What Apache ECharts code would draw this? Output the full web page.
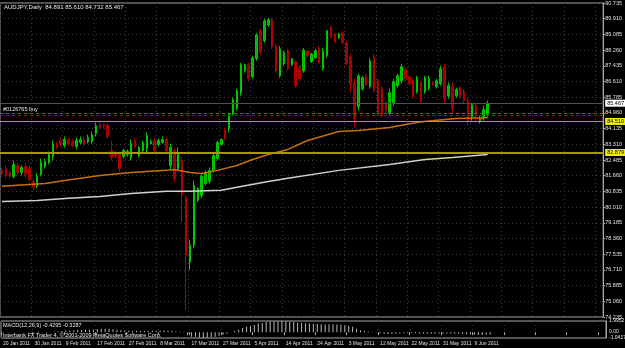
<!DOCTYPE html>
<html>
<head>
<meta charset="utf-8">
<script src="https://cdn.jsdelivr.net/npm/echarts@6/dist/echarts.min.js"></script>
<style>
html, body { margin: 0; padding: 0; background: #000; }
#chart { width: 625px; height: 348px; }
</style>
</head>
<body>
<div id="chart"></div>
<script>
// texts
var symbolTitle = 'AUDJPY,Daily  84.891 85.610 84.732 85.467';
var macdTitle = 'MACD(12,26,9) -0.4295 -0.3287';
var copyright = 'Interbank FX Trader 4, \u00a9 2001-2009 MetaQuotes Software Corp.';
var orderText = '#0126765 buy';

// one date label every 8 bars
var dateLabels = ['20 Jan 2011', '30 Jan 2011', '9 Feb 2011', '17 Feb 2011', '27 Feb 2011', '8 Mar 2011',
    '17 Mar 2011', '27 Mar 2011', '5 Apr 2011', '14 Apr 2011', '24 Apr 2011', '3 May 2011',
    '12 May 2011', '22 May 2011', '31 May 2011', '9 Jun 2011'];
var slotCount = 154;

var opens = [81.94, 82.04, 81.83, 81.62, 82.20, 81.83, 82.15, 82.04, 81.36, 81.10, 81.73,
    82.15, 82.35, 82.67, 83.35, 83.51, 83.24, 83.56, 83.45, 83.19, 83.40,
    83.56, 83.45, 83.45, 83.87, 84.34, 84.34, 84.29, 82.98, 82.83, 82.77,
    82.67, 82.77, 82.62, 83.51, 82.72, 82.98, 83.09, 83.35, 83.51, 83.30,
    83.40, 83.56, 82.20, 82.98, 82.04, 82.46, 80.52, 77.12, 78.01, 80.36,
    80.63, 81.25, 81.36, 81.94, 82.56, 83.30, 84.03, 84.13, 84.92, 85.18,
    86.02, 87.17, 87.49, 86.86, 87.80, 89.27, 88.75, 89.58, 89.85, 88.48,
    86.91, 87.54, 88.22, 87.49, 87.64, 87.33, 87.17, 88.22, 87.64, 87.85,
    88.38, 87.28, 87.96, 89.48, 89.11, 88.90, 89.16, 88.64, 87.91, 86.55,
    85.29, 86.23, 86.91, 86.34, 87.91, 86.65, 86.23, 85.50, 84.97, 85.50,
    86.39, 86.65, 87.23, 86.86, 86.65, 86.07, 86.55, 86.07, 86.23, 86.55,
    86.34, 86.49, 87.38, 85.86, 86.34, 85.86, 86.28, 86.07, 85.60, 84.76,
    85.34, 84.50, 84.71, 84.891];
var closes = [81.78, 81.67, 81.62, 82.25, 81.83, 82.09, 81.73, 81.46, 81.05, 81.62, 82.35,
    82.41, 82.77, 83.30, 83.14, 83.30, 83.56, 83.35, 83.24, 83.51, 83.56,
    83.35, 83.66, 83.82, 84.29, 84.19, 84.24, 83.72, 82.62, 82.67, 82.04,
    82.98, 82.93, 83.35, 83.19, 83.14, 83.40, 83.77, 83.45, 82.98, 83.51,
    83.56, 82.98, 83.14, 81.52, 82.88, 80.63, 77.48, 78.01, 81.15, 80.99,
    81.62, 81.83, 81.94, 82.72, 83.40, 83.56, 83.61, 84.92, 85.65, 86.13,
    87.49, 87.49, 86.75, 87.85, 89.06, 88.12, 89.79, 89.85, 88.43, 87.17,
    88.33, 88.12, 87.28, 87.80, 86.39, 86.75, 88.27, 87.96, 88.06, 88.22,
    87.59, 88.22, 89.27, 88.95, 88.69, 89.11, 88.64, 87.54, 86.44, 84.66,
    86.91, 86.81, 86.44, 87.70, 86.13, 84.97, 84.82, 85.08, 86.02, 86.60,
    86.91, 87.38, 86.75, 86.49, 85.81, 86.81, 85.55, 86.81, 86.75, 86.44,
    86.65, 87.28, 85.71, 86.39, 85.18, 86.18, 85.81, 85.60, 84.55, 85.39,
    84.82, 84.66, 85.13, 85.467];
var lows = [81.57, 81.52, 81.52, 81.52, 81.67, 81.67, 81.57, 81.31, 80.89, 80.99, 81.62,
    82.04, 82.25, 82.46, 83.04, 83.19, 83.14, 83.24, 83.14, 83.04, 83.30,
    83.19, 83.35, 83.35, 83.72, 84.13, 84.13, 83.61, 82.46, 82.56, 81.83,
    82.56, 82.67, 82.46, 83.09, 82.62, 82.88, 82.88, 83.30, 82.88, 83.19,
    83.35, 82.88, 81.94, 81.31, 81.88, 79.21, 74.60, 76.70, 77.85, 80.26,
    80.47, 81.15, 81.25, 81.83, 82.46, 83.24, 83.51, 83.93, 84.82, 85.08,
    85.86, 87.07, 86.65, 86.75, 87.70, 88.01, 88.64, 89.48, 88.33, 87.07,
    86.81, 87.44, 87.17, 87.44, 86.28, 86.65, 87.07, 87.91, 87.59, 87.80,
    87.54, 87.17, 87.85, 88.90, 88.64, 88.85, 88.59, 87.44, 86.02, 84.19,
    85.08, 86.13, 86.39, 86.23, 86.02, 84.82, 84.71, 84.97, 84.82, 85.34,
    86.28, 86.49, 86.65, 86.39, 85.71, 85.97, 85.45, 85.97, 86.13, 86.39,
    86.23, 86.39, 85.45, 85.71, 84.92, 85.76, 85.71, 85.45, 84.29, 84.55,
    84.45, 84.40, 84.55, 84.732];
var highs = [82.09, 82.20, 81.94, 82.46, 82.35, 82.20, 82.35, 82.20, 81.46, 81.78, 82.56,
    82.56, 82.93, 83.51, 83.45, 83.66, 83.72, 83.66, 83.56, 83.66, 83.72,
    83.72, 83.82, 83.98, 84.45, 84.45, 84.40, 84.40, 83.51, 82.98, 82.93,
    83.09, 83.04, 83.56, 83.66, 83.24, 83.51, 83.93, 83.56, 83.61, 83.61,
    83.72, 83.66, 83.35, 83.09, 83.14, 82.62, 80.63, 78.27, 81.41, 81.05,
    81.78, 81.94, 82.09, 82.83, 83.51, 83.61, 84.19, 84.97, 85.76, 86.23,
    87.59, 87.54, 87.59, 87.96, 89.16, 89.37, 89.90, 89.95, 89.95, 88.59,
    88.48, 88.22, 88.33, 87.85, 87.70, 87.44, 88.38, 88.27, 88.12, 88.33,
    88.48, 88.38, 89.32, 89.53, 89.16, 89.16, 89.27, 88.75, 88.06, 86.75,
    87.02, 86.91, 87.02, 87.85, 88.06, 86.81, 86.39, 85.60, 86.23, 86.75,
    87.02, 87.54, 87.33, 86.91, 86.75, 86.91, 86.65, 86.91, 86.91, 86.60,
    86.75, 87.44, 87.54, 86.55, 86.55, 86.28, 86.39, 86.23, 85.76, 85.50,
    85.45, 84.82, 85.34, 85.610];

// moving averages, [bar, value]
var maOrange = [[0, 81.10], [11, 81.25], [16, 81.41], [25, 81.67], [33, 81.83], [42, 81.94], [44, 81.99],
    [48, 81.83], [51, 81.78], [55, 81.94], [60, 82.20], [64, 82.51], [68, 82.77], [73, 83.04],
    [78, 83.51], [86, 83.98], [91, 84.03], [99, 84.19], [107, 84.50], [116, 84.66], [124, 84.71]];
var maWhite = [[0, 80.31], [9, 80.36], [17, 80.47], [25, 80.57], [33, 80.73], [42, 80.84], [48, 80.84],
    [56, 80.89], [60, 81.05], [68, 81.36], [73, 81.52], [86, 81.94], [99, 82.25], [108, 82.51],
    [115, 82.62], [124, 82.77]];

var macd = [0.06, 0.05, 0.03, 0.02, 0.00, -0.02, -0.03, -0.05, -0.08, -0.10, -0.08,
    -0.04, 0.01, 0.08, 0.15, 0.22, 0.28, 0.32, 0.35, 0.38, 0.40,
    0.42, 0.45, 0.48, 0.55, 0.60, 0.62, 0.60, 0.52, 0.45, 0.36,
    0.30, 0.26, 0.25, 0.24, 0.22, 0.22, 0.25, 0.27, 0.27, 0.28,
    0.29, 0.26, 0.24, 0.14, 0.08, -0.10, -0.55, -0.80, -0.80, -0.95,
    -1.0417, -1.00, -0.92, -0.80, -0.62, -0.45, -0.25, -0.02, 0.20, 0.45,
    0.75, 0.95, 1.10, 1.30, 1.55, 1.65, 1.80, 1.90, 1.92, 1.95,
    1.9952, 1.93, 1.85, 1.80, 1.70, 1.62, 1.60, 1.55, 1.50, 1.45,
    1.40, 1.38, 1.40, 1.42, 1.38, 1.32, 1.25, 1.10, 0.95, 0.60,
    0.35, 0.20, 0.10, 0.05, -0.05, -0.20, -0.30, -0.35, -0.33, -0.28,
    -0.22, -0.18, -0.16, -0.16, -0.20, -0.22, -0.27, -0.28, -0.28, -0.27,
    -0.25, -0.22, -0.25, -0.28, -0.30, -0.30, -0.32, -0.35, -0.42, -0.45,
    -0.50, -0.50, -0.47, -0.4295];

// price scale and horizontal levels
var priceMin = 74.235, priceMax = 90.735, priceStep = 0.825;
var macdMin = -1.0417, macdMax = 1.9952;
var macdScaleLabels = [1.9952, 0.00, -1.0417];
var bidPrice = 85.467;
var orderOpen = 84.95;
var orderStop = 84.82;
var levelHigh = 84.510;
var levelLow = 82.879;

var categories = [];
for (var i = 0; i < slotCount; i++) {
    categories.push(i % 8 === 0 && dateLabels[i / 8] ? dateLabels[i / 8] : '');
}
var candles = opens.map(function (o, i) {
    return [o, closes[i], lows[i], highs[i]];
});

var font = 'Liberation Sans';
var every8 = function (idx) { return idx % 8 === 0; };
var gridDots = { color: '#3a3a3a', width: 1, type: [1, 3] };

var chart = echarts.init(document.getElementById('chart'));
var option = {
    backgroundColor: '#000',
    animation: false,
    grid: [
        { left: 0, right: 19, top: 2, bottom: 31, show: true, borderColor: '#a8a8a8', borderWidth: 1 },
        { left: 0, right: 19, top: 321, bottom: 10, show: true, borderColor: '#a8a8a8', borderWidth: 1 }
    ],
    xAxis: [
        {
            type: 'category', gridIndex: 0, data: categories, boundaryGap: true,
            axisLine: { show: false }, axisTick: { show: false }, axisLabel: { show: false },
            splitLine: { show: true, interval: every8, lineStyle: gridDots }
        },
        {
            type: 'category', gridIndex: 1, data: categories, boundaryGap: true,
            axisLine: { show: false },
            axisTick: { show: true, interval: every8, length: 3, lineStyle: { color: '#a8a8a8' } },
            axisLabel: {
                show: true, interval: every8, align: 'left', margin: 3,
                color: '#e0e0e0', fontSize: 5, fontFamily: font
            },
            splitLine: { show: true, interval: every8, lineStyle: gridDots }
        }
    ],
    yAxis: [
        {
            type: 'value', gridIndex: 0, position: 'right', min: priceMin, max: priceMax, interval: priceStep,
            axisLine: { show: true, lineStyle: { color: '#a8a8a8' } },
            axisTick: { show: true, length: 2, lineStyle: { color: '#a8a8a8' } },
            axisLabel: {
                color: '#e0e0e0', fontSize: 5.5, fontFamily: font, margin: 2,
                formatter: function (v) { return v.toFixed(3); }
            },
            splitLine: { show: true, lineStyle: gridDots }
        },
        {
            type: 'value', gridIndex: 1, position: 'right', min: macdMin, max: macdMax,
            axisLine: { show: true, lineStyle: { color: '#a8a8a8' } },
            axisTick: { show: false }, axisLabel: { show: false }, splitLine: { show: false }
        }
    ],
    series: [
        {
            type: 'candlestick', xAxisIndex: 0, yAxisIndex: 0, data: candles, barWidth: 2,
            itemStyle: {
                color: '#00b400', color0: '#9c0000',
                borderColor: '#00c800', borderColor0: '#b00000', borderWidth: 1
            },
            markLine: {
                silent: true, symbol: 'none', animation: false,
                label: {
                    position: 'end', distance: 2, fontSize: 5.5, fontFamily: font,
                    padding: [1, 2, 0, 2], color: '#000'
                },
                data: [
                    { yAxis: bidPrice, lineStyle: { color: '#505050', type: 'solid', width: 1 },
                      label: { formatter: bidPrice.toFixed(3), backgroundColor: '#ffffff' } },
                    { yAxis: orderOpen, lineStyle: { color: '#00a000', type: [3, 3], width: 1 },
                      label: { show: false } },
                    { yAxis: orderStop, lineStyle: { color: '#b00000', type: [3, 3], width: 1 },
                      label: { show: false } },
                    { yAxis: levelHigh, lineStyle: { color: '#b4a800', type: 'solid', width: 1 },
                      label: { formatter: levelHigh.toFixed(3), backgroundColor: '#f0f000' } },
                    { yAxis: levelLow, lineStyle: { color: '#a89800', type: 'solid', width: 2 },
                      label: { formatter: levelLow.toFixed(3), backgroundColor: '#f0f000' } }
                ]
            }
        },
        {
            type: 'line', xAxisIndex: 0, yAxisIndex: 0, data: maOrange, showSymbol: false,
            lineStyle: { color: '#c8700a', width: 1.5 }, z: 3
        },
        {
            type: 'line', xAxisIndex: 0, yAxisIndex: 0, data: maWhite, showSymbol: false,
            lineStyle: { color: '#d0d0d0', width: 1.5 }, z: 3
        },
        {
            type: 'bar', xAxisIndex: 1, yAxisIndex: 1, data: macd, barWidth: 1,
            itemStyle: { color: '#b8b8b8' }
        }
    ]
};
chart.setOption(option);

var textStyle = function (txt, size) {
    return { text: txt, fill: '#e8e8e8', fontSize: size || 5.5, fontFamily: font };
};
var graphics = [
    { type: 'text', left: 4, top: 4, style: textStyle(symbolTitle, 6) },
    { type: 'text', left: 3, top: 106, style: textStyle(orderText) },
    { type: 'text', left: 3, top: 322, style: textStyle(macdTitle) },
    { type: 'text', left: 3, top: 332, style: textStyle(copyright) }
];
macdScaleLabels.forEach(function (v) {
    var y = chart.convertToPixel({ yAxisIndex: 1 }, v);
    graphics.push({
        type: 'text', left: 609, top: y - 3,
        style: textStyle(v === 0 ? '0.00' : v.toFixed(4), 5)
    });
});
chart.setOption({ graphic: graphics });
</script>
</body>
</html>
